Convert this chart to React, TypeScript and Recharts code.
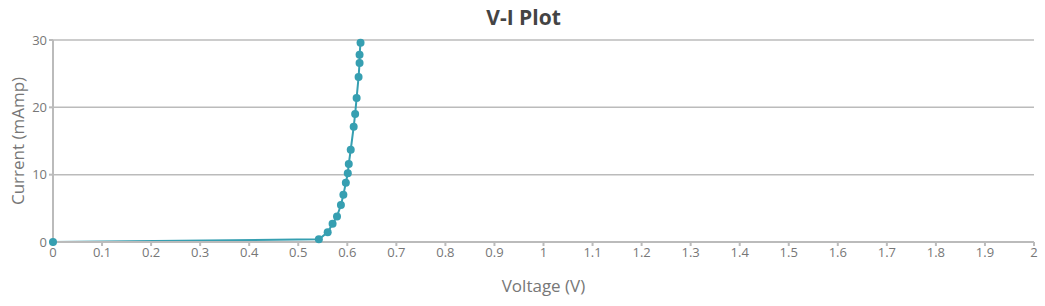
import React from "react";
import { LineChart, Line, XAxis, YAxis, CartesianGrid, Label } from "recharts";

const voltage = [0, 0.542, 0.560, 0.570, 0.579, 0.587, 0.592, 0.597, 0.601, 0.603, 0.607, 0.613, 0.616, 0.619, 0.623, 0.625, 0.625, 0.627];
const current = [0, 0.4, 1.44, 2.7, 3.8, 5.5, 7.0, 8.8, 10.2, 11.6, 13.7, 17.1, 19.0, 21.4, 24.5, 26.6, 27.8, 29.6];
const xTicks = [0, 0.1, 0.2, 0.3, 0.4, 0.5, 0.6, 0.7, 0.8, 0.9, 1, 1.1, 1.2, 1.3, 1.4, 1.5, 1.6, 1.7, 1.8, 1.9, 2];
const yTicks = [0, 10, 20, 30];

const data = voltage.map((v, i) => ({ v, i: current[i] }));

const FONT = "'Open Sans', 'Noto Sans', sans-serif";
const COLOR = "#369fb1";

const YLabel = (props: any) => {
  const vb = props.viewBox || {};
  const cy = (vb.y ?? 40) + (vb.height ?? 202) / 2;
  const cx = 17;
  return (
    <text
      x={cx}
      y={cy}
      transform={`rotate(-90 ${cx} ${cy})`}
      textAnchor="middle"
      dominantBaseline="central"
      style={{ fill: "#777", fontSize: 17, fontFamily: FONT }}
    >
      Current (mAmp)
    </text>
  );
};

export default function App() {
  return (
    <div style={{ position: "absolute", left: 0, top: 0, width: 1045, height: 306, background: "#fff", fontFamily: FONT }}>
      <div style={{ position: "absolute", top: 3, left: 1, width: 1045, textAlign: "center", fontSize: 21, fontWeight: 700, color: "#444", fontFamily: FONT }}>
        V-I Plot
      </div>
      <LineChart width={1045} height={306} data={data} margin={{ top: 40, right: 11, bottom: 0, left: 0 }}>
        <CartesianGrid vertical={false} stroke="#bbb" strokeWidth={1.5} />
        <XAxis
          dataKey="v"
          type="number"
          domain={[0, 2]}
          ticks={xTicks}
          interval={0}
          height={64}
          stroke="#bbb"
          strokeWidth={2}
          tickSize={4}
          tick={{ fill: "#777", fontSize: 13, fontFamily: FONT }}
          tickFormatter={(t: number) => String(Math.round(t * 10) / 10)}
        >
          <Label value="Voltage (V)" position="insideBottom" offset={14} style={{ fill: "#777", fontSize: 17, fontFamily: FONT }} />
        </XAxis>
        <YAxis
          dataKey="i"
          type="number"
          domain={[0, 30]}
          ticks={yTicks}
          width={53}
          stroke="#bbb"
          strokeWidth={2}
          tickSize={4}
          tick={{ fill: "#777", fontSize: 13, fontFamily: FONT }}
        >
          <Label content={<YLabel />} />
        </YAxis>
        <Line
          dataKey="i"
          stroke={COLOR}
          strokeWidth={2}
          dot={{ r: 4, fill: COLOR, stroke: COLOR, strokeWidth: 0 }}
          isAnimationActive={false}
        />
      </LineChart>
    </div>
  );
}
